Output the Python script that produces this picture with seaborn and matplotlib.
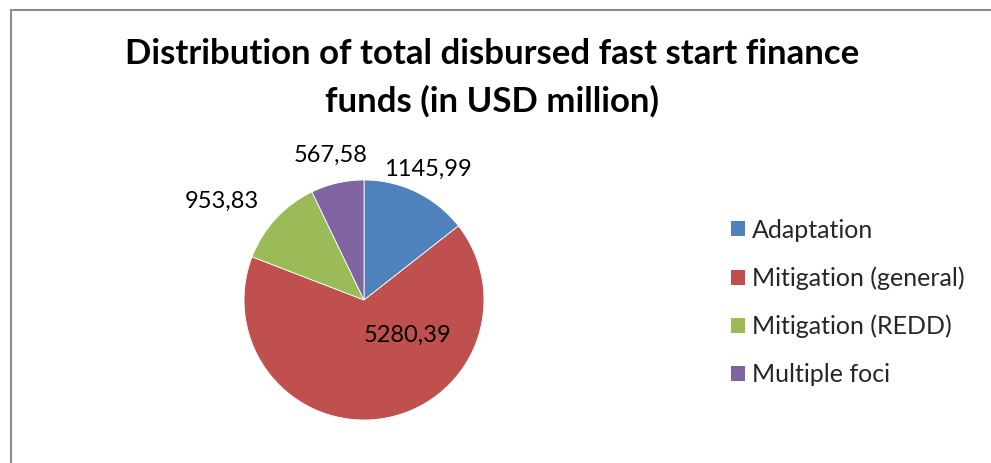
import matplotlib
matplotlib.use("Agg")
import matplotlib.pyplot as plt
import seaborn as sns
import numpy as np
from matplotlib.patches import Rectangle

categories = ["Adaptation", "Mitigation (general)", "Mitigation (REDD)", "Multiple foci"]
values = [1145.99, 5280.39, 953.83, 567.58]
value_labels = ["1145,99", "5280,39", "953,83", "567,58"]
title_lines = ["Distribution of total disbursed fast start finance", "funds (in USD million)"]
colors = ["#4F81BD", "#C0504D", "#9BBB59", "#8064A2"]

sns.set_theme(style="white")
plt.rcParams["font.family"] = ["Lato", "DejaVu Sans"]
palette = sns.color_palette(colors)

W, H = 991, 463
fig = plt.figure(figsize=(W / 100, H / 100), dpi=100)
fig.patch.set_facecolor("white")

# chart border (top and left visible)
fig.patches.append(Rectangle((10.5 / W, -0.1), 1.2, (H - 10.5) / H + 0.1, transform=fig.transFigure,
                             fill=False, edgecolor="#8C8C8C", linewidth=1.5, zorder=0))

cx, cy, R = 364, 300, 118
side = 300
ax = fig.add_axes([(cx - side / 2) / W, (H - cy - side / 2) / H, side / W, side / H])
lim = side / 2 / R
ax.set_xlim(-lim, lim)
ax.set_ylim(-lim, lim)
ax.set_aspect("equal")
ax.axis("off")

wedges, _ = ax.pie(values, colors=palette, startangle=90, counterclock=False, radius=1,
                   wedgeprops=dict(edgecolor="white", linewidth=0.6))

# (angle in degrees or None for wedge middle, distance from centre in radii)
label_place = [(None, 1.21), (-39, 0.47), (145.3, 1.44), (None, 1.24)]
for w, lab, (a, d) in zip(wedges, value_labels, label_place):
    ang = np.deg2rad((w.theta1 + w.theta2) / 2 if a is None else a)
    ax.text(d * np.cos(ang), d * np.sin(ang), lab, ha="center", va="center",
            fontsize=17, color="black")

fig.text(492 / W, 1 - 54 / H, title_lines[0], ha="center", va="center",
         fontsize=25, fontweight="bold", color="black")
fig.text(492 / W, 1 - 101 / H, title_lines[1], ha="center", va="center",
         fontsize=25, fontweight="bold", color="black")

handles = [Rectangle((0, 0), 1, 1, facecolor=c, edgecolor="none") for c in palette]
fig.legend(handles, categories, loc="center left", bbox_to_anchor=(731 / W, 1 - 302.5 / H),
           frameon=False, fontsize=18, handlelength=0.55, handleheight=0.55,
           handletextpad=0.3, labelspacing=0.99, borderaxespad=0, borderpad=0)

fig.savefig("out.png", dpi=100, facecolor="white")
